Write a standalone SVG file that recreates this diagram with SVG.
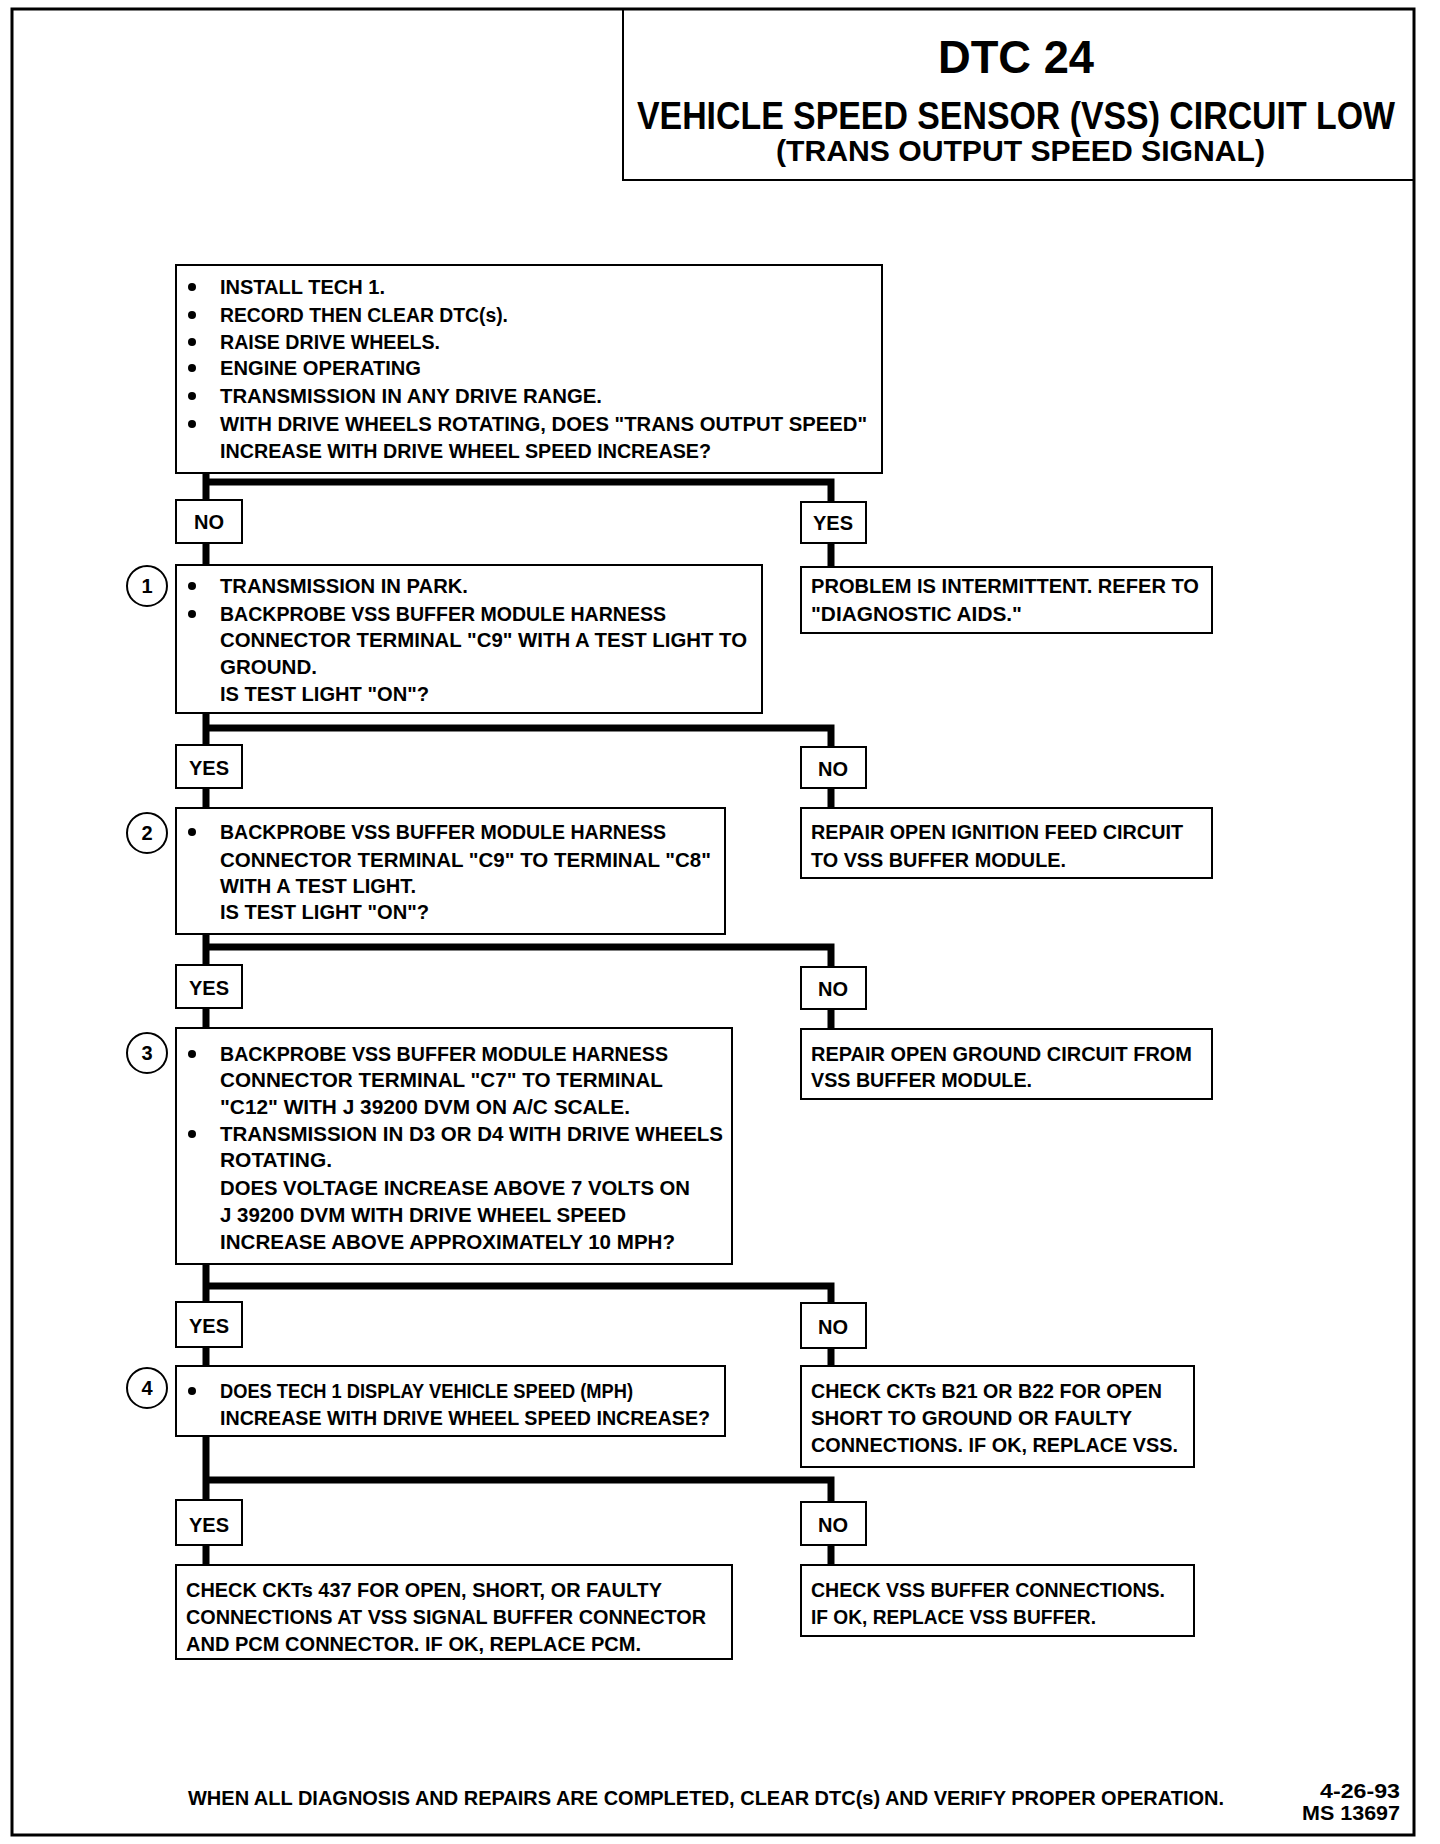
<svg xmlns="http://www.w3.org/2000/svg" width="1440" height="1844" viewBox="0 0 1440 1844">
<style>
.box{fill:#fff;stroke:#000;stroke-width:2}
.t{font-family:"Liberation Sans",Arial,sans-serif;font-weight:bold;font-size:20px;fill:#000}
.lb{font-family:"Liberation Sans",Arial,sans-serif;font-weight:bold;font-size:20px;fill:#000;text-anchor:middle}
.conn{stroke:#000;stroke-width:7;fill:none}
.circ{fill:#fff;stroke:#000;stroke-width:2}
.num{font-family:"Liberation Sans",Arial,sans-serif;font-weight:bold;font-size:20px;text-anchor:middle}
</style>
<defs>
<circle id="bul" r="4" fill="#000"/>
</defs>
<rect width="1440" height="1844" fill="#fff"/>
<rect x="12" y="9" width="1402" height="1826" fill="none" stroke="#000" stroke-width="3"/>

<g id="title">
<rect x="623" y="9" width="791" height="171" fill="none" stroke="#000" stroke-width="2"/>
<text x="1016" y="73" class="t" style="font-size:46px" text-anchor="middle" textLength="156" lengthAdjust="spacingAndGlyphs">DTC 24</text>
<text transform="translate(637,129) scale(1,1.12)" x="0" y="0" class="t" style="font-size:34px" textLength="758" lengthAdjust="spacingAndGlyphs">VEHICLE SPEED SENSOR (VSS) CIRCUIT LOW</text>
<text x="776" y="161" class="t" style="font-size:30px" textLength="489" lengthAdjust="spacingAndGlyphs">(TRANS OUTPUT SPEED SIGNAL)</text>
</g>

<g id="connectors">
<path class="conn" d="M206,473 V500 M206,482 H831 V502"/>
<path class="conn" d="M206,543 V565 M831,543 V567"/>
<path class="conn" d="M206,713 V745 M206,728 H831 V747"/>
<path class="conn" d="M206,788 V808 M831,788 V808"/>
<path class="conn" d="M206,934 V965 M206,947 H831 V967"/>
<path class="conn" d="M206,1008 V1028 M831,1009 V1029"/>
<path class="conn" d="M206,1264 V1302 M206,1286 H831 V1303"/>
<path class="conn" d="M206,1347 V1366 M831,1348 V1366"/>
<path class="conn" d="M206,1436 V1500 M206,1480 H831 V1502"/>
<path class="conn" d="M206,1545 V1565 M831,1545 V1565"/>
</g>

<g id="start">
<rect class="box" x="176" y="265" width="706" height="208"/>
<use href="#bul" x="192" y="287"/><text class="t" x="220" y="294" textLength="165" lengthAdjust="spacingAndGlyphs">INSTALL TECH 1.</text>
<use href="#bul" x="192" y="315"/><text class="t" x="220" y="322" textLength="288" lengthAdjust="spacingAndGlyphs">RECORD THEN CLEAR DTC(s).</text>
<use href="#bul" x="192" y="342"/><text class="t" x="220" y="349" textLength="220" lengthAdjust="spacingAndGlyphs">RAISE DRIVE WHEELS.</text>
<use href="#bul" x="192" y="368"/><text class="t" x="220" y="375" textLength="201" lengthAdjust="spacingAndGlyphs">ENGINE OPERATING</text>
<use href="#bul" x="192" y="396"/><text class="t" x="220" y="403" textLength="382" lengthAdjust="spacingAndGlyphs">TRANSMISSION IN ANY DRIVE RANGE.</text>
<use href="#bul" x="192" y="424"/><text class="t" x="220" y="431" textLength="647" lengthAdjust="spacingAndGlyphs">WITH DRIVE WHEELS ROTATING, DOES "TRANS OUTPUT SPEED"</text>
<text class="t" x="220" y="458" textLength="491" lengthAdjust="spacingAndGlyphs">INCREASE WITH DRIVE WHEEL SPEED INCREASE?</text>
</g>

<g id="no1"><rect class="box" x="176" y="500" width="66" height="43"/><text class="lb" x="209" y="529">NO</text></g>
<g id="yes1"><rect class="box" x="801" y="502" width="65" height="41"/><text class="lb" x="833" y="530">YES</text></g>

<g id="step1">
<circle class="circ" cx="147" cy="586" r="20"/><text class="num" x="147" y="593">1</text>
<rect class="box" x="176" y="565" width="586" height="148"/>
<use href="#bul" x="192" y="586"/><text class="t" x="220" y="593" textLength="248" lengthAdjust="spacingAndGlyphs">TRANSMISSION IN PARK.</text>
<use href="#bul" x="192" y="614"/><text class="t" x="220" y="621" textLength="446" lengthAdjust="spacingAndGlyphs">BACKPROBE VSS BUFFER MODULE HARNESS</text>
<text class="t" x="220" y="647" textLength="527" lengthAdjust="spacingAndGlyphs">CONNECTOR TERMINAL "C9" WITH A TEST LIGHT TO</text>
<text class="t" x="220" y="674" textLength="97" lengthAdjust="spacingAndGlyphs">GROUND.</text>
<text class="t" x="220" y="701" textLength="209" lengthAdjust="spacingAndGlyphs">IS TEST LIGHT "ON"?</text>
</g>

<g id="intermittent">
<rect class="box" x="801" y="567" width="411" height="66"/>
<text class="t" x="811" y="593" textLength="388" lengthAdjust="spacingAndGlyphs">PROBLEM IS INTERMITTENT.  REFER TO</text>
<text class="t" x="811" y="621" textLength="211" lengthAdjust="spacingAndGlyphs">"DIAGNOSTIC AIDS."</text>
</g>

<g id="yes2"><rect class="box" x="176" y="745" width="66" height="43"/><text class="lb" x="209" y="775">YES</text></g>
<g id="no2"><rect class="box" x="801" y="747" width="65" height="41"/><text class="lb" x="833" y="776">NO</text></g>

<g id="step2">
<circle class="circ" cx="147" cy="833" r="20"/><text class="num" x="147" y="840">2</text>
<rect class="box" x="176" y="808" width="549" height="126"/>
<use href="#bul" x="192" y="832"/><text class="t" x="220" y="839" textLength="446" lengthAdjust="spacingAndGlyphs">BACKPROBE VSS BUFFER MODULE HARNESS</text>
<text class="t" x="220" y="867" textLength="491" lengthAdjust="spacingAndGlyphs">CONNECTOR TERMINAL "C9" TO TERMINAL "C8"</text>
<text class="t" x="220" y="893" textLength="196" lengthAdjust="spacingAndGlyphs">WITH A TEST LIGHT.</text>
<text class="t" x="220" y="919" textLength="209" lengthAdjust="spacingAndGlyphs">IS TEST LIGHT "ON"?</text>
</g>

<g id="repairIgnition">
<rect class="box" x="801" y="808" width="411" height="70"/>
<text class="t" x="811" y="839" textLength="372" lengthAdjust="spacingAndGlyphs">REPAIR OPEN IGNITION FEED CIRCUIT</text>
<text class="t" x="811" y="867" textLength="255" lengthAdjust="spacingAndGlyphs">TO VSS BUFFER MODULE.</text>
</g>

<g id="yes3"><rect class="box" x="176" y="965" width="66" height="43"/><text class="lb" x="209" y="995">YES</text></g>
<g id="no3"><rect class="box" x="801" y="967" width="65" height="42"/><text class="lb" x="833" y="996">NO</text></g>

<g id="step3">
<circle class="circ" cx="147" cy="1053" r="20"/><text class="num" x="147" y="1060">3</text>
<rect class="box" x="176" y="1028" width="556" height="236"/>
<use href="#bul" x="192" y="1054"/><text class="t" x="220" y="1061" textLength="448" lengthAdjust="spacingAndGlyphs">BACKPROBE VSS BUFFER MODULE HARNESS</text>
<text class="t" x="220" y="1087" textLength="443" lengthAdjust="spacingAndGlyphs">CONNECTOR TERMINAL "C7" TO TERMINAL</text>
<text class="t" x="220" y="1114" textLength="410" lengthAdjust="spacingAndGlyphs">"C12" WITH J 39200 DVM ON A/C SCALE.</text>
<use href="#bul" x="192" y="1134"/><text class="t" x="220" y="1141" textLength="503" lengthAdjust="spacingAndGlyphs">TRANSMISSION IN D3 OR D4 WITH DRIVE WHEELS</text>
<text class="t" x="220" y="1167" textLength="112" lengthAdjust="spacingAndGlyphs">ROTATING.</text>
<text class="t" x="220" y="1195" textLength="470" lengthAdjust="spacingAndGlyphs">DOES VOLTAGE INCREASE ABOVE 7 VOLTS ON</text>
<text class="t" x="220" y="1222" textLength="406" lengthAdjust="spacingAndGlyphs">J 39200 DVM WITH DRIVE WHEEL SPEED</text>
<text class="t" x="220" y="1249" textLength="455" lengthAdjust="spacingAndGlyphs">INCREASE ABOVE APPROXIMATELY 10 MPH?</text>
</g>

<g id="repairGround">
<rect class="box" x="801" y="1029" width="411" height="70"/>
<text class="t" x="811" y="1061" textLength="381" lengthAdjust="spacingAndGlyphs">REPAIR OPEN GROUND CIRCUIT FROM</text>
<text class="t" x="811" y="1087" textLength="221" lengthAdjust="spacingAndGlyphs">VSS BUFFER MODULE.</text>
</g>

<g id="yes4"><rect class="box" x="176" y="1302" width="66" height="45"/><text class="lb" x="209" y="1333">YES</text></g>
<g id="no4"><rect class="box" x="801" y="1303" width="65" height="45"/><text class="lb" x="833" y="1334">NO</text></g>

<g id="step4">
<circle class="circ" cx="147" cy="1388" r="20"/><text class="num" x="147" y="1395">4</text>
<rect class="box" x="176" y="1366" width="549" height="70"/>
<use href="#bul" x="192" y="1391"/><text class="t" x="220" y="1398" textLength="413" lengthAdjust="spacingAndGlyphs">DOES TECH 1 DISPLAY VEHICLE SPEED (MPH)</text>
<text class="t" x="220" y="1425" textLength="490" lengthAdjust="spacingAndGlyphs">INCREASE WITH DRIVE WHEEL SPEED INCREASE?</text>
</g>

<g id="checkVSS">
<rect class="box" x="801" y="1366" width="393" height="101"/>
<text class="t" x="811" y="1398" textLength="351" lengthAdjust="spacingAndGlyphs">CHECK CKTs B21 OR B22 FOR OPEN</text>
<text class="t" x="811" y="1425" textLength="321" lengthAdjust="spacingAndGlyphs">SHORT TO GROUND OR FAULTY</text>
<text class="t" x="811" y="1452" textLength="367" lengthAdjust="spacingAndGlyphs">CONNECTIONS.  IF OK, REPLACE VSS.</text>
</g>

<g id="yes5"><rect class="box" x="176" y="1500" width="66" height="45"/><text class="lb" x="209" y="1532">YES</text></g>
<g id="no5"><rect class="box" x="801" y="1502" width="65" height="43"/><text class="lb" x="833" y="1532">NO</text></g>

<g id="checkPCM">
<rect class="box" x="176" y="1565" width="556" height="94"/>
<text class="t" x="186" y="1597" textLength="476" lengthAdjust="spacingAndGlyphs">CHECK CKTs 437 FOR OPEN, SHORT, OR FAULTY</text>
<text class="t" x="186" y="1624" textLength="520" lengthAdjust="spacingAndGlyphs">CONNECTIONS AT VSS SIGNAL BUFFER CONNECTOR</text>
<text class="t" x="186" y="1651" textLength="455" lengthAdjust="spacingAndGlyphs">AND PCM CONNECTOR.  IF OK, REPLACE PCM.</text>
</g>

<g id="checkBuffer">
<rect class="box" x="801" y="1565" width="393" height="71"/>
<text class="t" x="811" y="1597" textLength="354" lengthAdjust="spacingAndGlyphs">CHECK VSS BUFFER CONNECTIONS.</text>
<text class="t" x="811" y="1624" textLength="285" lengthAdjust="spacingAndGlyphs">IF OK, REPLACE VSS BUFFER.</text>
</g>

<g id="footer">
<text class="t" x="188" y="1805" textLength="1036" lengthAdjust="spacingAndGlyphs">WHEN ALL DIAGNOSIS AND REPAIRS ARE COMPLETED, CLEAR DTC(s) AND VERIFY PROPER OPERATION.</text>
<text class="t" x="1400" y="1798" text-anchor="end" textLength="80" lengthAdjust="spacingAndGlyphs">4-26-93</text>
<text class="t" x="1400" y="1820" text-anchor="end" textLength="98" lengthAdjust="spacingAndGlyphs">MS 13697</text>
</g>
</svg>
